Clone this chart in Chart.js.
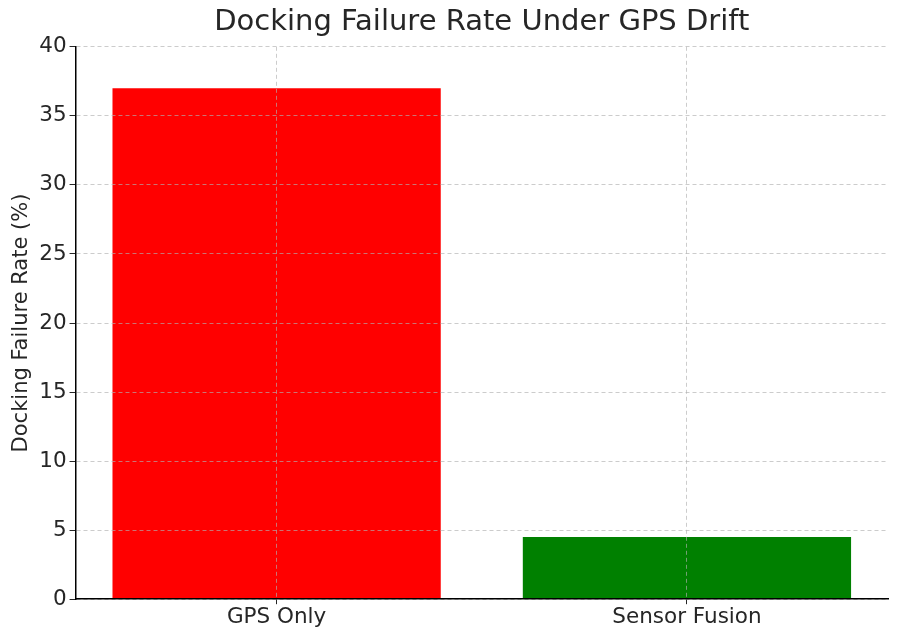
<!DOCTYPE html>
<html>
<head>
<meta charset="utf-8">
<title>Docking Failure Rate Under GPS Drift</title>
<script src="https://cdn.jsdelivr.net/npm/chart.js@4"></script>
<style>
  body { margin: 0; background: #fff; }
  #chart { display: block; }
</style>
</head>
<body>
<canvas id="chart" width="900" height="639"></canvas>
<script>
// Chart data
const categories = ['GPS Only', 'Sensor Fusion'];
const failureRates = [37, 4.5];
const barColors = ['#ff0000', '#008000'];
const yTicks = [0, 5, 10, 15, 20, 25, 30, 35, 40];

const gridColor = 'rgba(176,176,176,0.65)';
const font = 'DejaVu Sans';

new Chart(document.getElementById('chart'), {
    type: 'bar',
    data: {
        datasets: [{
            data: categories.map(function(c, i) { return { x: i, y: failureRates[i] }; }),
            backgroundColor: barColors,
            borderWidth: 0,
            categoryPercentage: 1,
            barPercentage: 0.8
        }]
    },
    options: {
        responsive: false,
        animation: false,
        devicePixelRatio: 1,
        layout: { padding: { right: 12, left: 9, bottom: 9 } },
        plugins: {
            legend: { display: false },
            tooltip: { enabled: false },
            title: {
                display: true,
                fullSize: false,
                text: 'Docking Failure Rate Under GPS Drift',
                color: '#262626',
                font: { family: font, size: 29, weight: 'normal' },
                padding: { top: 5, bottom: 7 }
            }
        },
        scales: {
            x: {
                type: 'linear',
                min: -0.49,
                max: 1.49,
                offset: false,
                z: 1,
                afterBuildTicks: function(scale) {
                    scale.ticks = categories.map(function(c, i) { return { value: i }; });
                },
                ticks: {
                    color: '#262626',
                    font: { family: font, size: 21.5 },
                    padding: 0,
                    callback: function(v) { return categories[v]; }
                },
                grid: {
                    z: 1,
                    offset: false,
                    color: gridColor,
                    tickColor: '#262626',
                    tickLength: 5,
                    lineWidth: 1
                },
                border: { display: true, color: '#000', width: 1.5, dash: [4, 3], z: 2 }
            },
            y: {
                min: 0,
                max: 40,
                z: 1,
                afterBuildTicks: function(scale) {
                    scale.ticks = yTicks.map(function(v) { return { value: v }; });
                },
                ticks: {
                    color: '#262626',
                    font: { family: font, size: 21.5 },
                    padding: 3
                },
                title: {
                    display: true,
                    text: 'Docking Failure Rate (%)',
                    color: '#262626',
                    font: { family: font, size: 21 },
                    padding: { top: 0, bottom: 2 }
                },
                grid: {
                    z: 1,
                    color: gridColor,
                    tickColor: '#262626',
                    tickLength: 6,
                    lineWidth: 1
                },
                border: { display: true, color: '#000', width: 1.5, dash: [4, 3], z: 2 }
            }
        }
    }
});
</script>
</body>
</html>
